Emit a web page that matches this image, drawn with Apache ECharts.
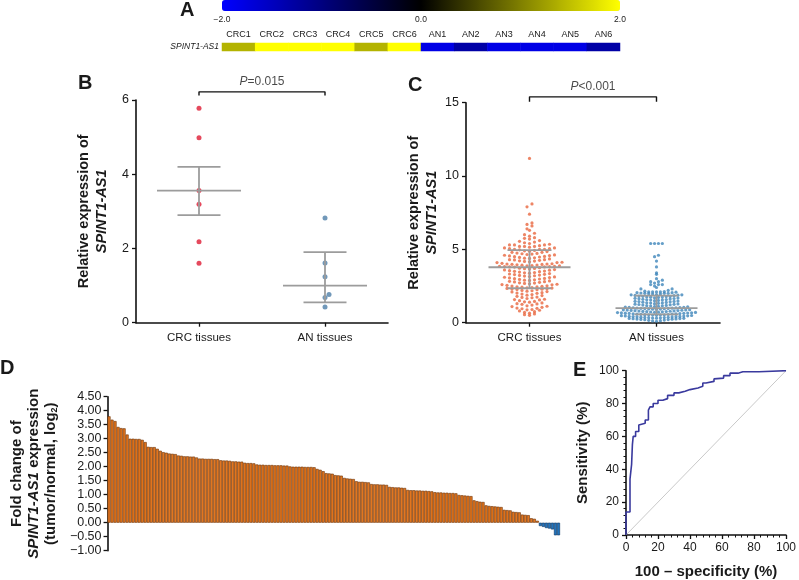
<!DOCTYPE html>
<html><head><meta charset="utf-8">
<script src="https://cdn.jsdelivr.net/npm/echarts@6/dist/echarts.min.js"></script>
<style>html,body{margin:0;padding:0;background:#fff}#c{width:799px;height:580px}</style>
</head><body><div id="c"></div>
<script>
const FONT = '"Liberation Sans", Arial, Helvetica, sans-serif';
const TXT = '#1a1a1a';

// ---------- Panel A (heat map) ----------
const heatSamples = ['CRC1','CRC2','CRC3','CRC4','CRC5','CRC6','AN1','AN2','AN3','AN4','AN5','AN6'];
const heatGene = ['SPINT1-AS1'];
const heatValues = [1.4, 2.0, 2.0, 2.0, 1.4, 2.0, -1.8, -1.3, -1.8, -1.8, -1.8, -1.3];
const colorScaleMin = -2, colorScaleMax = 2, colorScaleStep = 2;

// ---------- Panel B ----------
const groupNames = ['CRC tissues', 'AN tissues'];
const bCRC = [5.78, 4.98, 3.56, 3.19, 2.18, 1.60];
const bAN = [2.82, 1.61, 1.24, 0.76, 0.68, 0.42];
const bCenter = [3.56, 1.00];
const bLower = [2.90, 0.55];
const bUpper = [4.20, 1.90];
const bPText = '=0.015';

// ---------- Panel C ----------
const cCRC = [11.2, 8.1, 7.9, 7.4, 6.8, 6.7, 6.6, 6.4, 6.3, 6.1, 6.0, 5.9, 5.8, 5.75, 5.7, 5.6, 5.55, 5.5, 5.45, 5.4, 5.35, 5.3, 5.3, 5.3, 5.25, 5.2, 5.2, 5.2, 5.15, 5.1, 5.1, 5.05, 5.05, 5.0, 5.0, 5.0, 4.97,
  4.93, 4.9, 4.88, 4.85, 4.8, 4.8, 4.75, 4.72, 4.7, 4.68, 4.65, 4.62, 4.6, 4.58, 4.55, 4.52, 4.5, 4.48, 4.45, 4.42, 4.4, 4.38, 4.35, 4.3, 4.3, 4.28, 4.25, 4.22, 4.2, 4.18, 4.15, 4.12, 4.1, 4.1, 4.05, 4.02, 4.0, 4.0,
  3.98, 3.97, 3.95, 3.93, 3.92, 3.9, 3.88, 3.87, 3.85, 3.85, 3.83, 3.82, 3.8, 3.8, 3.79,
  3.75, 3.72, 3.7, 3.68, 3.66, 3.62, 3.6, 3.58, 3.55, 3.52, 3.5, 3.48, 3.45, 3.42, 3.4, 3.38, 3.35, 3.32, 3.3, 3.28, 3.25, 3.22, 3.2, 3.18, 3.15, 3.12, 3.1, 3.08, 3.05, 3.02, 3.0, 2.98, 2.95, 2.92, 2.9, 2.88,
  2.85, 2.82, 2.8, 2.78, 2.75, 2.72, 2.7, 2.68, 2.65, 2.62, 2.6, 2.58, 2.55, 2.52, 2.5, 2.48, 2.45, 2.44, 2.42, 2.4, 2.38, 2.36,
  2.34, 2.32, 2.3, 2.28, 2.26, 2.25, 2.2, 2.18, 2.15, 2.12, 2.1, 2.05, 2.02, 2.0, 1.95, 1.92, 1.88, 1.85, 1.8, 1.75, 1.72, 1.7, 1.65, 1.6, 1.58, 1.55, 1.5, 1.45, 1.42, 1.4, 1.35, 1.3, 1.28, 1.25, 1.2, 1.15,
  1.12, 1.1, 1.05, 1.0, 0.98, 0.95, 0.9, 0.88, 0.85, 0.8, 0.75, 0.7, 0.65, 0.6, 0.55, 0.5];
const cAN = [5.4, 5.4, 5.4, 5.4, 4.6, 4.5, 4.2, 3.8, 3.4, 3.3, 3.0, 2.9, 2.8, 2.8, 2.7, 2.6, 2.6, 2.6, 2.5, 2.4, 2.3, 2.3, 2.2, 2.15, 2.12, 2.1, 2.1, 2.1, 2.1, 2.08, 2.05, 2.05, 2.02, 2.0, 2.0, 2.0, 1.98,
  1.95, 1.95, 1.92, 1.9, 1.9, 1.88, 1.86, 1.84, 1.82, 1.8, 1.8, 1.78, 1.76, 1.75, 1.74, 1.72, 1.7, 1.68, 1.66, 1.65, 1.64, 1.62, 1.6, 1.58, 1.56, 1.55, 1.54, 1.52, 1.5, 1.48, 1.46, 1.45, 1.44, 1.42, 1.4, 1.38,
  1.36, 1.35, 1.34, 1.32, 1.3, 1.28, 1.26, 1.25, 1.24, 1.22, 1.2, 1.18, 1.16, 1.15, 1.14, 1.12, 1.1, 1.08, 1.06, 1.05, 1.04, 1.03, 1.02, 1.01, 1.0,
  0.99, 0.98, 0.97, 0.96, 0.95, 0.94, 0.93, 0.92, 0.9, 0.89, 0.88, 0.87, 0.86, 0.85, 0.84, 0.83, 0.82, 0.8, 0.79, 0.78, 0.77, 0.76, 0.75, 0.74, 0.73, 0.72, 0.71, 0.7, 0.69, 0.68, 0.67, 0.66, 0.65, 0.64, 0.63,
  0.62, 0.61, 0.6, 0.59, 0.58, 0.57, 0.56, 0.55, 0.54, 0.54, 0.53, 0.52, 0.5, 0.49, 0.48, 0.47, 0.46, 0.45, 0.44, 0.43, 0.42, 0.41, 0.4, 0.39, 0.38, 0.37, 0.36, 0.35, 0.34, 0.33, 0.32, 0.31, 0.3, 0.29,
  0.28, 0.27, 0.26, 0.25, 0.24, 0.22, 0.21, 0.2, 0.18, 0.16, 0.14, 0.12, 0.1];
const cCenter = [3.78, 1.00];
const cLower = [2.35, 0.57];
const cUpper = [4.95, 1.85];
const cPText = '<0.001';

// ---------- Panel D ----------
const dFoldChange = [3.80, 3.68, 3.63, 3.42, 3.38, 3.37, 3.15, 3.00, 3.00, 2.99, 2.99, 2.96, 2.88, 2.71, 2.70, 2.70, 2.64, 2.57, 2.52, 2.50,
  2.47, 2.46, 2.45, 2.40, 2.39, 2.37, 2.37, 2.36, 2.36, 2.33, 2.29, 2.29, 2.28, 2.28, 2.28, 2.27, 2.27, 2.23, 2.22, 2.22,
  2.21, 2.19, 2.19, 2.18, 2.18, 2.14, 2.13, 2.13, 2.12, 2.08, 2.07, 2.07, 2.06, 2.06, 2.06, 2.05, 2.05, 2.05, 2.04, 2.04,
  2.01, 2.00, 2.00, 2.00, 2.00, 1.99, 1.99, 1.99, 1.98, 1.92, 1.89, 1.84, 1.77, 1.76, 1.75, 1.70, 1.69, 1.68, 1.60, 1.58,
  1.57, 1.56, 1.48, 1.46, 1.46, 1.45, 1.44, 1.38, 1.37, 1.37, 1.36, 1.36, 1.35, 1.28, 1.27, 1.26, 1.26, 1.25, 1.24, 1.17,
  1.16, 1.16, 1.15, 1.15, 1.14, 1.14, 1.13, 1.12, 1.09, 1.08, 1.08, 1.07, 1.07, 1.06, 1.06, 1.05, 0.99, 0.98, 0.97, 0.96,
  0.95, 0.80, 0.77, 0.75, 0.74, 0.62, 0.60, 0.59, 0.58, 0.57, 0.56, 0.46, 0.45, 0.44, 0.39, 0.38, 0.37, 0.29, 0.28, 0.27,
  0.16, 0.14, 0.07, -0.12, -0.15, -0.19, -0.21, -0.24, -0.45, -0.45];
const dMin = -1, dMax = 4.5, dStep = 0.5;

// ---------- Panel E (ROC) ----------
const rocFPR = [0, 0, 2.5, 2.5, 3.5, 4, 4.5, 6, 8, 9, 12, 14, 15, 17, 20, 23, 26, 30, 33, 37, 40, 45, 48, 50, 55, 56, 61, 65, 70, 73, 83, 84, 100];
const rocTPR = [0, 14, 14, 30, 34, 43, 55, 60, 63, 67, 68, 70, 76, 78, 80, 82, 83, 85, 86.5, 87.5, 88.5, 89.5, 90.5, 92.5, 93.5, 95, 95.5, 97, 98.5, 99.4, 99.4, 100, 100];
const refLine = [[0, 0], [100, 100]];

// ---------- layout ----------
const G = {
  heat: {left: 222, top: 43, width: 398, height: 8},
  scale: {left: 222, top: 0, width: 398, height: 11},
  B: {left: 136, top: 100, width: 252, height: 222.7},
  C: {left: 466, top: 102.7, width: 254, height: 220},
  D: {left: 95, top: 396.7, width: 465, height: 154},
  E: {left: 626, top: 370.7, width: 164, height: 165}
};

// greedy beeswarm (pixel offsets from values)
function swarm(vals, pxPerUnit, d) {
  const order = vals.map((v, i) => ({v, i})).sort((a, b) => a.v - b.v);
  const placed = [];
  const offs = new Array(vals.length).fill(0);
  for (const p of order) {
    const y = p.v * pxPerUnit;
    const near = placed.filter(q => Math.abs(q.y - y) < d);
    const cands = [0];
    near.forEach(q => { const dx = Math.sqrt(d * d - (q.y - y) * (q.y - y)); cands.push(q.x + dx, q.x - dx); });
    cands.sort((a, b) => Math.abs(a) - Math.abs(b) || b - a);
    let best = 0;
    for (const c of cands) {
      if (near.every(q => (q.x - c) * (q.x - c) + (q.y - y) * (q.y - y) >= d * d - 1e-6)) { best = c; break; }
    }
    placed.push({x: best, y});
    offs[p.i] = best;
  }
  return offs;
}
function swarmData(vals, cat, pxPerUnit, d, bandPx) {
  const o = swarm(vals, pxPerUnit, d);
  return vals.map((v, i) => [cat + o[i] / bandPx, v]);
}
// row-binned scatter (GraphPad style)
function binData(vals, cat, binH, sp, bandPx) {
  const bins = {};
  vals.forEach((v, i) => { const b = Math.round(v / binH); (bins[b] = bins[b] || []).push(i); });
  const out = new Array(vals.length);
  Object.keys(bins).forEach(key => {
    const idx = bins[key];
    const n = idx.length;
    const pos = [];
    for (let k = 0; k < n; k++) pos.push((k - (n - 1) / 2) * sp);
    pos.sort((a, b) => Math.abs(a) - Math.abs(b) || a - b);
    idx.sort((a, b) => vals[a] - vals[b]);
    idx.forEach((ii, k) => { out[ii] = [cat + pos[k] / bandPx, vals[ii]]; });
  });
  return out;
}
const bBand = G.B.width / 2, cBand = G.C.width / 2;
const bPx = G.B.height / 6;

function errRender(half, cap) {
  return function (params, api) {
    const x = api.value(0);
    const pc = api.coord([x, api.value(1)]);
    const pl = api.coord([x, api.value(2)]);
    const ph = api.coord([x, api.value(3)]);
    const style = {stroke: '#9c9c9c', lineWidth: 1.8, fill: null};
    return {type: 'group', children: [
      {type: 'line', shape: {x1: pc[0] - half, y1: pc[1], x2: pc[0] + half, y2: pc[1]}, style},
      {type: 'line', shape: {x1: pl[0], y1: pl[1], x2: ph[0], y2: ph[1]}, style},
      {type: 'line', shape: {x1: ph[0] - cap, y1: ph[1], x2: ph[0] + cap, y2: ph[1]}, style},
      {type: 'line', shape: {x1: pl[0] - cap, y1: pl[1], x2: pl[0] + cap, y2: pl[1]}, style}
    ]};
  };
}

const axisLineBlack = {show: true, onZero: false, lineStyle: {color: '#111', width: 1.6}};
const tickBlack = {show: true, length: 4, lineStyle: {color: '#111', width: 1.3}};
const minus = v => String(v).replace('-', '\u2212');
const nameRich = size => ({fontSize: size, fontWeight: 'bold', color: TXT, lineHeight: 18,
  rich: {i: {fontSize: size, fontWeight: 'bold', fontStyle: 'italic', color: TXT, lineHeight: 18}}});

const option = {
  animation: false,
  textStyle: {fontFamily: FONT},
  grid: [G.heat, G.scale, G.B, G.C, G.D, G.E].map(g => Object.assign({containLabel: false}, g)),
  visualMap: {
    type: 'continuous', seriesIndex: 0, min: colorScaleMin, max: colorScaleMax,
    orient: 'horizontal', left: G.scale.left, top: G.scale.top, padding: 0,
    itemWidth: G.scale.height, itemHeight: G.scale.width, calculable: false, hoverLink: false,
    inRange: {color: ['#0000ff', '#000000', '#ffff00']},
    textStyle: {fontSize: 1, color: 'rgba(0,0,0,0)'}
  },
  xAxis: [
    {gridIndex: 0, type: 'category', data: heatSamples, position: 'top', axisLine: {show: false}, axisTick: {show: false},
      axisLabel: {fontSize: 9, color: TXT, margin: 4, interval: 0}},
    {gridIndex: 1, type: 'value', min: colorScaleMin, max: colorScaleMax, interval: colorScaleStep, axisLine: {show: false}, axisTick: {show: false}, splitLine: {show: false},
      axisLabel: {fontSize: 8.5, color: TXT, margin: 4, formatter: v => minus(v.toFixed(1))}},
    {gridIndex: 2, type: 'category', data: groupNames, axisLine: axisLineBlack, axisTick: Object.assign({alignWithLabel: true}, tickBlack),
      axisLabel: {fontSize: 11.5, color: TXT, margin: 9}},
    {gridIndex: 2, type: 'value', min: -0.5, max: 1.5, show: false},
    {gridIndex: 3, type: 'category', data: groupNames, axisLine: axisLineBlack, axisTick: Object.assign({alignWithLabel: true}, tickBlack),
      axisLabel: {fontSize: 11.5, color: TXT, margin: 9}},
    {gridIndex: 3, type: 'value', min: -0.5, max: 1.5, show: false},
    {gridIndex: 4, type: 'category', data: dFoldChange.map((v, i) => 'S' + (i + 1)), axisLine: {show: false}, axisTick: {show: false}, axisLabel: {show: false}},
    {gridIndex: 5, type: 'value', min: 0, max: 100, interval: 20, axisLine: axisLineBlack, axisTick: tickBlack,
      minorTick: {show: true, splitNumber: 5, length: 2.5, lineStyle: {color: '#111', width: 1}}, splitLine: {show: false},
      axisLabel: {fontSize: 12, color: TXT, margin: 7},
      name: '100 \u2013 specificity (%)', nameLocation: 'middle', nameGap: 29, nameTextStyle: {fontSize: 15, fontWeight: 'bold', color: TXT}}
  ],
  yAxis: [
    {gridIndex: 0, type: 'category', data: heatGene, axisLine: {show: false}, axisTick: {show: false},
      axisLabel: {fontSize: 8.5, fontStyle: 'italic', color: TXT, margin: 3}},
    {gridIndex: 1, type: 'value', show: false},
    {gridIndex: 2, type: 'value', min: 0, max: 6, interval: 2, axisLine: axisLineBlack, axisTick: tickBlack, splitLine: {show: false},
      axisLabel: {fontSize: 12.5, color: TXT, margin: 7},
      name: 'Relative expression of\n{i|SPINT1-AS1}', nameLocation: 'middle', nameRotate: 90, nameGap: 25, nameTextStyle: nameRich(14.5)},
    {gridIndex: 3, type: 'value', min: 0, max: 15, interval: 5, axisLine: axisLineBlack, axisTick: tickBlack, splitLine: {show: false},
      axisLabel: {fontSize: 12.5, color: TXT, margin: 7},
      name: 'Relative expression of\n{i|SPINT1-AS1}', nameLocation: 'middle', nameRotate: 90, nameGap: 21, nameTextStyle: nameRich(14.5)},
    {gridIndex: 4, type: 'value', min: dMin, max: dMax, interval: dStep, axisLine: axisLineBlack, axisTick: tickBlack, splitLine: {show: false},
      axisLabel: {fontSize: 12.5, color: TXT, margin: 6, formatter: v => minus(v.toFixed(2))},
      name: 'Fold change of\n{i|SPINT1-AS1} expression\n(tumor/normal, log{s|2})', nameLocation: 'middle', nameRotate: 90, nameGap: 45,
      nameTextStyle: {fontSize: 15, fontWeight: 'bold', color: TXT, lineHeight: 17,
        rich: {i: {fontSize: 15, fontWeight: 'bold', fontStyle: 'italic', color: TXT, lineHeight: 17},
               s: {fontSize: 9, fontWeight: 'bold', color: TXT, lineHeight: 17, verticalAlign: 'bottom'}}}},
    {gridIndex: 5, type: 'value', min: 0, max: 100, interval: 20, axisLine: axisLineBlack, axisTick: tickBlack,
      minorTick: {show: true, splitNumber: 5, length: 2.5, lineStyle: {color: '#111', width: 1}}, splitLine: {show: false},
      axisLabel: {fontSize: 12, color: TXT, margin: 7},
      name: 'Sensitivity (%)', nameLocation: 'middle', nameRotate: 90, nameGap: 36, nameTextStyle: {fontSize: 15, fontWeight: 'bold', color: TXT}}
  ],
  series: [
    {type: 'heatmap', xAxisIndex: 0, yAxisIndex: 0, data: heatValues.map((v, i) => [i, 0, v]), itemStyle: {borderWidth: 0}, emphasis: {disabled: true}},
    // B
    {type: 'scatter', xAxisIndex: 3, yAxisIndex: 2, symbolSize: 5, itemStyle: {color: '#df1b35'}, data: swarmData(bCRC, 0, bPx, 5, bBand), z: 2},
    {type: 'scatter', xAxisIndex: 3, yAxisIndex: 2, symbolSize: 5, itemStyle: {color: '#4d7ea8'}, data: swarmData(bAN, 1, bPx, 5, bBand), z: 2},
    {type: 'custom', xAxisIndex: 3, yAxisIndex: 2, renderItem: errRender(42, 21.5), encode: {x: 0, y: [1, 2, 3]},
      data: bCenter.map((c, i) => [i, c, bLower[i], bUpper[i]]), z: 3, silent: true},
    {type: 'line', xAxisIndex: 3, yAxisIndex: 2, clip: false, symbol: 'none', lineStyle: {color: '#111', width: 1.4},
      data: [[0, 6.12], [0, 6.22], [1, 6.22], [1, 6.12]], z: 4, silent: true},
    {type: 'scatter', xAxisIndex: 3, yAxisIndex: 2, clip: false, symbolSize: 0, data: [[0.5, 6.5]], silent: true,
      label: {show: true, position: 'inside', formatter: '{i|P}' + bPText, fontSize: 12, color: TXT, rich: {i: {fontStyle: 'italic', fontSize: 12, color: TXT}}}},
    // C
    {type: 'scatter', xAxisIndex: 5, yAxisIndex: 3, symbolSize: 3.2, itemStyle: {color: '#e8673f'}, data: binData(cCRC, 0, 0.25, 5.0, cBand), z: 2},
    {type: 'scatter', xAxisIndex: 5, yAxisIndex: 3, symbolSize: 3.2, itemStyle: {color: '#3f86ba'}, data: binData(cAN, 1, 0.2, 3.9, cBand), z: 2},
    {type: 'custom', xAxisIndex: 5, yAxisIndex: 3, renderItem: errRender(41, 22), encode: {x: 0, y: [1, 2, 3]},
      data: cCenter.map((c, i) => [i, c, cLower[i], cUpper[i]]), z: 3, silent: true},
    {type: 'line', xAxisIndex: 5, yAxisIndex: 3, clip: false, symbol: 'none', lineStyle: {color: '#111', width: 1.4},
      data: [[0, 15.07], [0, 15.4], [1, 15.4], [1, 15.07]], z: 4, silent: true},
    {type: 'scatter', xAxisIndex: 5, yAxisIndex: 3, clip: false, symbolSize: 0, data: [[0.5, 16.1]], silent: true,
      label: {show: true, position: 'inside', formatter: '{i|P}' + cPText, fontSize: 12, color: TXT, rich: {i: {fontStyle: 'italic', fontSize: 12, color: TXT}}}},
    // D
    {type: 'bar', xAxisIndex: 6, yAxisIndex: 4, barCategoryGap: '0%', silent: true,
      data: dFoldChange.map(v => ({value: v, itemStyle: v >= 0 ? {color: '#e2761f', borderColor: '#6b3307', borderWidth: 0.6} : {color: '#1f73bd', borderColor: '#0b3663', borderWidth: 0.6}}))},
    // E
    {type: 'line', xAxisIndex: 7, yAxisIndex: 5, symbol: 'none', lineStyle: {color: '#c9c9c9', width: 1}, data: refLine, silent: true},
    {type: 'line', xAxisIndex: 7, yAxisIndex: 5, symbol: 'none', step: 'start', lineStyle: {color: '#3a3a9e', width: 1.6},
      data: rocFPR.map((x, i) => [x, rocTPR[i]]), silent: true}
  ],
  graphic: [
    {type: 'text', x: 180, y: 0, style: {text: 'A', font: 'bold 20px ' + FONT, fill: TXT}},
    {type: 'text', x: 78, y: 73, style: {text: 'B', font: 'bold 20px ' + FONT, fill: TXT}},
    {type: 'text', x: 408, y: 75, style: {text: 'C', font: 'bold 20px ' + FONT, fill: TXT}},
    {type: 'text', x: 0, y: 358, style: {text: 'D', font: 'bold 20px ' + FONT, fill: TXT}},
    {type: 'text', x: 573, y: 360, style: {text: 'E', font: 'bold 20px ' + FONT, fill: TXT}}
  ]
};
const chart = echarts.init(document.getElementById('c'), null, {renderer: 'canvas'});
chart.setOption(option);
</script></body></html>
